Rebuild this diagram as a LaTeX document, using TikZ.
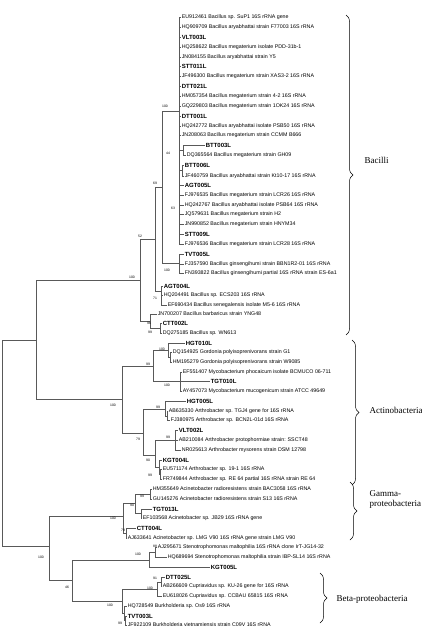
\documentclass[tikz,border=0pt]{standalone}
\usepackage{fontspec}
\setmainfont{Liberation Serif}
\setsansfont{Liberation Sans}
\usetikzlibrary{decorations.pathreplacing}
\tikzset{x=1pt,y=-1pt,
 br/.style={line width=.45pt,draw=black!65},
 leaf/.style={anchor=west,inner sep=.6pt,font=\sffamily\fontsize{5.3}{5.3}\selectfont},
 iso/.style={anchor=west,inner sep=.6pt,font=\sffamily\bfseries\fontsize{6}{6}\selectfont},
 bs/.style={inner sep=0pt,font=\sffamily\fontsize{3.4}{3.4}\selectfont},
 clade/.style={decorate,decoration={brace,amplitude=7pt},line width=.5pt},
 cname/.style={anchor=west,font=\fontsize{9}{10}\selectfont,align=left}}
\begin{document}
\begin{tikzpicture}
\useasboundingbox (0,0) rectangle (421,634);
% reference strains
\foreach \n/\x/\y/\t in {EU912461/181/17/Bacillus sp. SuP1 16S rRNA gene,HQ909709/181/27/Bacillus aryabhattai strain F77003 16S rRNA,HQ258622/181/47/Bacillus megaterium isolate PDD-31b-1,JN084155/181/57/Bacillus aryabhattai strain Y5,JF496300/181/76/Bacillus megaterium strain XAS3-2 16S rRNA,HM057354/181/96/Bacillus megaterium strain 4-2 16S rRNA,GQ229803/181/106/Bacillus megaterium strain 1OK24 16S rRNA,HQ242772/181/126/Bacillus aryabhattai isolate PSB50 16S rRNA,JN208063/181/135/Bacillus megaterium strain CCMM B666,DQ365564/186/155/Bacillus megaterium strain GH09,JF460759/184/176/Bacillus aryabhattai strain Kt10-17 16S rRNA,FJ976535/184/195/Bacillus megaterium strain LCR26 16S rRNA,HQ242767/184/205/Bacillus aryabhattai isolate PSB64 16S rRNA,JQ579631/184/214/Bacillus megaterium strain H2,JN990852/184/224/Bacillus megaterium strain HNYM34,FJ976536/184/244/Bacillus megaterium strain LCR28 16S rRNA,FJ357590/184/264/Bacillus ginsengihumi strain BBN1R2-01 16S rRNA,FN393822/184/273/Bacillus ginsengihumi partial 16S rRNA strain ES-6a1,HQ204491/163/295/Bacillus sp. ECS203 16S rRNA,EF690434/167/305/Bacillus senegalensis isolate M5-6 16S rRNA,JN700207/157/314/Bacillus barbaricus strain YNG48,DQ275185/162/333/Bacillus sp. WN613,DQ154925/172/352/Gordonia polyisoprenivorans strain G1,HM195279/172/362/Gordonia polyisoprenivorans strain W9085,EF551407/182/372/Mycobacterium phocaicum isolate BCMUCO 06-711,AY457073/182/391/Mycobacterium mucogenicum strain ATCC 49649,AB635330/168/411/Arthrobacter sp. TGJ4 gene for 16S rRNA,FJ380975/170/420/Arthrobacter sp. BCN2L-01d 16S rRNA,AB210084/178/440/Arthrobacter protophormiae strain: SSCT48,NR025613/181/450/Arthrobacter mysorens strain DSM 12798,EU571174/162/469/Arthrobacter sp. 19-1 16S rRNA,FR749844/162/479/Arthrobacter sp. RE 64 partial 16S rRNA strain RE 64,HM355649/152/489/Acinetobacter radioresistens strain BAC3058 16S rRNA,GU145276/152/499/Acinetobacter radioresistens strain S13 16S rRNA,EF103568/142/518/Acinetobacter sp. JB29 16S rRNA gene,AJ633641/127/538/Acinetobacter sp. LMG V90 16S rRNA gene strain LMG V90,AJ295671/157/547/Stenotrophomonas maltophilia 16S rRNA clone IrT-JG14-32,HQ689694/167/557/Stenotrophomonas maltophilia strain IBP-SL14 16S rRNA,AB266609/162/586/Cupriavidus sp. KU-26 gene for 16S rRNA,EU618026/162/596/Cupriavidus sp. CCBAU 65815 16S rRNA,HQ728549/127/606/Burkholderia sp. Os9 16S rRNA,JF922109/127/625/Burkholderia vietnamiensis strain C09V 16S rRNA}
  \node[leaf] (\n) at (\x,\y) {\n\ \t};
% isolates
\foreach \n/\x/\y in {VLT003L/181/37,STT011L/181/66,DTT021L/181/86,DTT001L/181/116,BTT003L/205/145,BTT006L/184/165,AGT005L/184/185,STT009L/184/234,TVT005L/184/254,AGT004L/163/286,CTT002L/162/323,HGT010L/185/343,TGT010L/210/381,HGT005L/186/401,VLT002L/178/430,KGT004L/162/460,TGT013L/152/509,CTT004L/136/528,KGT005L/210/567,DTT025L/165/577,TVT003L/127/616}
  \node[iso] (\n) at (\x,\y) {\n};
% inner nodes
\foreach \n/\x/\y in {root/2/443,top/36/340,prot/49/546,bac/140/280,nb/155/239,bA/162/187,core/179/111,d/183/150,e/182/170,tvt/179/263,agt/161/291,jn/150/321,ctt/160/328,act/122/399,gm/153/366,gor/168/350,gor2/170/357,myc/180/381,art/143/433,hg/165/409,hg2/167/416,art2/155/455,vlt/175/440,kgt/159/467,kgt2/160/474,gam/123/516,gA/135/503,rad/150/494,g2/141/513,gB/126/533,sb/72/580,st/149/560,st2/155/552,beta/122/601,cup/157/589,cu2/161/582,burk/124/613,bu2/125/620}
  \coordinate (\n) at (\x,\y);
\foreach \p/\c in {root/top,root/prot,top/bac,top/act,bac/nb,bac/jn,nb/bA,nb/agt,bA/core,bA/tvt,core/EU912461,core/HQ909709,core/VLT003L,core/HQ258622,core/JN084155,core/STT011L,core/JF496300,core/DTT021L,core/HM057354,core/GQ229803,core/DTT001L,core/HQ242772,core/JN208063,core/d,core/e,core/AGT005L,core/FJ976535,core/HQ242767,core/JQ579631,core/JN990852,core/STT009L,core/FJ976536,d/BTT003L,d/DQ365564,e/BTT006L,e/JF460759,tvt/TVT005L,tvt/FJ357590,tvt/FN393822,agt/AGT004L,agt/HQ204491,agt/EF690434,jn/JN700207,jn/ctt,ctt/CTT002L,ctt/DQ275185,act/gm,act/art,gm/gor,gm/myc,gor/HGT010L,gor/gor2,gor2/DQ154925,gor2/HM195279,myc/EF551407,myc/TGT010L,myc/AY457073,art/hg,art/art2,hg/HGT005L,hg/hg2,hg2/AB635330,hg2/FJ380975,art2/vlt,art2/kgt,vlt/VLT002L,vlt/AB210084,vlt/NR025613,kgt/KGT004L,kgt/kgt2,kgt2/EU571174,kgt2/FR749844,prot/gam,prot/sb,gam/gA,gam/gB,gA/rad,gA/g2,rad/HM355649,rad/GU145276,g2/TGT013L,g2/EF103568,gB/CTT004L,gB/AJ633641,sb/st,sb/beta,st/st2,st/KGT005L,st2/AJ295671,st2/HQ689694,beta/cup,beta/burk,cup/cu2,cup/EU618026,cu2/DTT025L,cu2/AB266609,burk/HQ728549,burk/bu2,bu2/TVT003L,bu2/JF922109}
  \draw[br] (\p) |- (\c);
% bootstrap values
\foreach \v/\x/\y [count=\i] in {100/165/106,44/168/153,69/155/183,63/173/208,52/140/236,100/167/270,100/132/277,71/155/298,96/149/323,99/150/332,100/162/349,99/148/364,100/167/385,100/113/405,99/158/407,79/138/439,99/168/437,90/148/460,99/150/475,99/142/496,90/132/505,100/113/518,79/123/530,88/155/546,100/138/554,100/41/557,91/155/578,100/150/588,46/67/587,100/110/605,99/120/623}
  \node[bs] (bs\i) at (\x,\y) {\v};
% clades
\coordinate (c1a) at (346,15);\coordinate (c1b) at (346,335);
\coordinate (c2a) at (352,340);\coordinate (c2b) at (352,485);
\coordinate (c3a) at (350,482);\coordinate (c3b) at (350,540);
\coordinate (c4a) at (320,573);\coordinate (c4b) at (320,623);
\draw[clade] (c1a) -- (c1b);\draw[clade] (c2a) -- (c2b);\draw[clade] (c3a) -- (c3b);\draw[clade] (c4a) -- (c4b);
\node[cname] (bacilli) at (361,160) {Bacilli};
\node[cname] (actino) at (366,410) {Actinobacteria};
\node[cname] (gamma) at (366,499) {Gamma-\\proteobacteria};
\node[cname] (betap) at (333,599) {Beta-proteobacteria};
\end{tikzpicture}
\end{document}
